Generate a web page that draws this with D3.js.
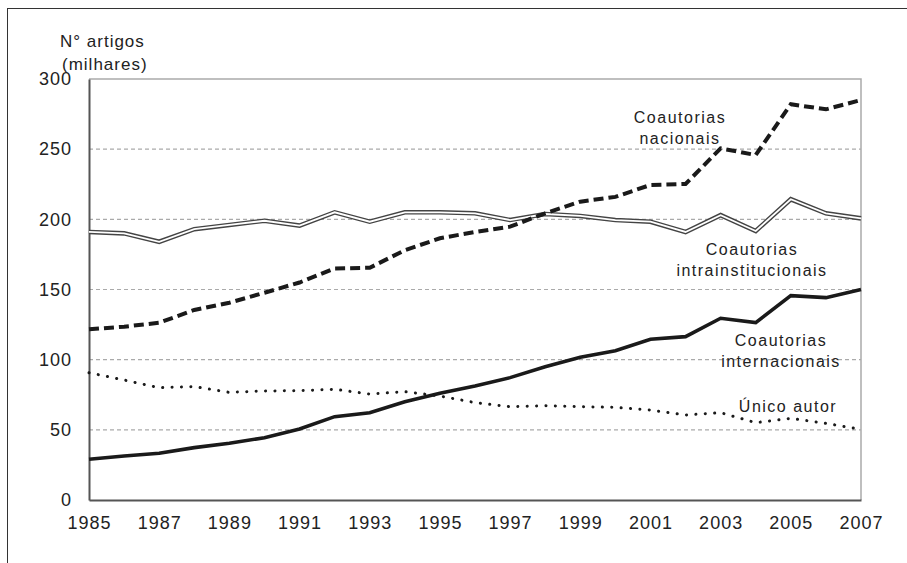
<!DOCTYPE html>
<html>
<head>
<meta charset="utf-8">
<script src="https://cdn.jsdelivr.net/npm/d3@7"></script>
<style>
  body { margin: 0; background: #fff; }
  text { font-family: "Liberation Sans", Arial, sans-serif; fill: #222; }
</style>
</head>
<body>
<svg id="chart" width="907" height="563"></svg>
<script>
// years along the x axis
var YEARS = d3.range(1985, 2008);

// thousands of articles
var intrainstitucionais = [191, 190, 184, 193, 196, 199, 195.5, 205, 198.3, 205, 205, 204.3,
  199.5, 203.8, 202.4, 199.5, 198.3, 191, 203, 191.7, 214.3, 204.3, 200.7];
var nacionais = [121.6, 123.5, 126.3, 135.4, 140.6, 147.7, 155, 165, 165.5, 178, 186.5, 191,
  194.8, 204.3, 212.6, 216, 224.5, 225.2, 250.6, 245.8, 282, 278.4, 285];
var internacionais = [29, 31.4, 33.3, 37.3, 40.4, 44.4, 50.6, 59.4, 62.2, 70, 76, 81.2,
  87.2, 95, 101.7, 106.4, 114.5, 116.4, 129.5, 126.4, 145.6, 144.2, 150];
var unicoAutor = [90.7, 85.5, 80, 80.8, 76.7, 77.7, 77.9, 78.9, 75.5, 77.2, 74.1, 69.4,
  66.5, 67.2, 66.5, 66, 64.1, 60.6, 62.2, 55.1, 58.2, 54.6, 50.4];

var X_TICKS = d3.range(1985, 2008, 2);
var Y_TICKS = [0, 50, 100, 150, 200, 250, 300];

var svg = d3.select('#chart');

// outer frame (runs off the bottom and right of the picture)
svg.append('rect')
    .attr('x', 7.5).attr('y', 8.5)
    .attr('width', 1000).attr('height', 1000)
    .attr('fill', 'none').attr('stroke', '#333').attr('stroke-width', 1);

var x = d3.scaleLinear().domain([1985, 2007]).range([89, 861]);
var y = d3.scaleLinear().domain([0, 300]).range([500, 79]);

// gridlines
svg.append('g').selectAll('line')
    .data(Y_TICKS.filter(function(d) { return d > 0 && d < 300; }))
    .enter().append('line')
    .attr('x1', x(1985)).attr('x2', x(2007))
    .attr('y1', function(d) { return y(d); })
    .attr('y2', function(d) { return y(d); })
    .attr('stroke', '#aaa').attr('stroke-width', 1.2)
    .attr('stroke-dasharray', '4,3');

// top and right border of plot
svg.append('path')
    .attr('d', 'M' + x(1985) + ',' + y(300) + 'H' + x(2007) + 'V' + y(0))
    .attr('fill', 'none').attr('stroke', '#aaa').attr('stroke-width', 1.5);

// y axis
var yAxis = svg.append('g')
    .attr('transform', 'translate(' + x(1985) + ',0)')
    .call(d3.axisLeft(y).tickValues(Y_TICKS).tickSize(0).tickPadding(17));
yAxis.select('.domain').attr('stroke', '#555').attr('stroke-width', 2);
yAxis.selectAll('text')
    .style('font-size', '18px').style('letter-spacing', '1px')
    .attr('fill', '#222');

// x axis
var xAxis = svg.append('g')
    .attr('transform', 'translate(0,' + y(0) + ')')
    .call(d3.axisBottom(x).tickValues(X_TICKS).tickFormat(d3.format('d'))
        .tickSize(0).tickPadding(16));
xAxis.select('.domain').attr('stroke', '#555').attr('stroke-width', 2);
xAxis.selectAll('text')
    .style('font-size', '18px').style('letter-spacing', '1px')
    .attr('fill', '#222');

// axis title
svg.append('text').attr('x', 60).attr('y', 47)
    .style('font-size', '17px').style('letter-spacing', '1px')
    .text('N° artigos');
svg.append('text').attr('x', 62).attr('y', 70)
    .style('font-size', '17px').style('letter-spacing', '1px')
    .text('(milhares)');

function lineFor(values) {
  return d3.line()
      .x(function(d, i) { return x(YEARS[i]); })
      .y(function(d) { return y(d); })(values);
}

// double line: dark outer stroke with a white core
svg.append('path').attr('d', lineFor(intrainstitucionais))
    .attr('fill', 'none').attr('stroke', '#444').attr('stroke-width', 4.6);
svg.append('path').attr('d', lineFor(intrainstitucionais))
    .attr('fill', 'none').attr('stroke', '#fff').attr('stroke-width', 1.8);

svg.append('path').attr('d', lineFor(nacionais))
    .attr('fill', 'none').attr('stroke', '#1a1a1a').attr('stroke-width', 4)
    .attr('stroke-dasharray', '10,5');

svg.append('path').attr('d', lineFor(internacionais))
    .attr('fill', 'none').attr('stroke', '#1a1a1a').attr('stroke-width', 3.6);

svg.append('path').attr('d', lineFor(unicoAutor))
    .attr('fill', 'none').attr('stroke', '#1a1a1a').attr('stroke-width', 3)
    .attr('stroke-linecap', 'round').attr('stroke-dasharray', '0.1,9.3');

// series labels
var labels = [
  {lines: ['Coautorias', 'nacionais'], cx: 680, y: 123},
  {lines: ['Coautorias', 'intrainstitucionais'], cx: 752, y: 255},
  {lines: ['Coautorias', 'internacionais'], cx: 781, y: 346},
  {lines: ['Único autor'], cx: 788, y: 412}
];
labels.forEach(function(l) {
  l.lines.forEach(function(s, i) {
    svg.append('text')
        .attr('x', l.cx).attr('y', l.y + i * 21)
        .attr('text-anchor', 'middle')
        .style('font-size', '16px').style('letter-spacing', '1.5px')
        .text(s);
  });
});
</script>
</body>
</html>
